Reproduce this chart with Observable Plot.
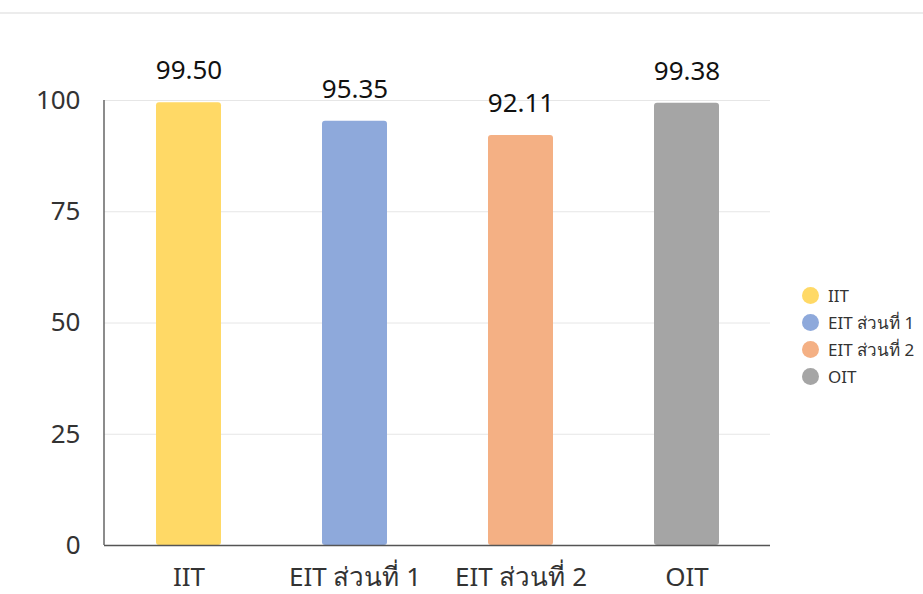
<!DOCTYPE html>
<html>
<head>
<meta charset="utf-8">
<script src="https://cdn.jsdelivr.net/npm/d3@7"></script>
<script src="https://cdn.jsdelivr.net/npm/@observablehq/plot@0.6"></script>
<style>
  html, body { margin: 0; padding: 0; background: #fff; }
  body { width: 923px; height: 594px; position: relative; overflow: hidden; font-family: "Noto Sans", "Open Sans", sans-serif; }
  #topline { position: absolute; left: 0; top: 12px; width: 923px; height: 2px; background: #ececec; }
  #chart { position: absolute; left: 0; top: 0; }
  #legend { position: absolute; left: 802px; top: 282px; font-size: 17px; color: #333; white-space: nowrap; }
  .item { display: flex; align-items: center; height: 27px; }
  .dot { width: 17px; height: 17px; border-radius: 50%; margin-right: 9px; flex: none; }
</style>
</head>
<body>
<div id="topline"></div>
<div id="chart"></div>
<div id="legend"></div>
<script>
const categories = ["IIT", "EIT ส่วนที่ 1", "EIT ส่วนที่ 2", "OIT"];
const values = [99.50, 95.35, 92.11, 99.38];
const colors = ["#FFD966", "#8EA9DB", "#F4B084", "#A5A5A5"];
const yTicks = [0, 25, 50, 75, 100];

const data = categories.map((c, i) => ({ category: c, value: values[i] }));

const chart = Plot.plot({
  width: 923,
  height: 594,
  marginLeft: 104,
  marginRight: 153,
  marginTop: 100,
  marginBottom: 49,
  style: { fontFamily: "'Noto Sans', 'Open Sans', sans-serif", fontSize: "26px", color: "#333", background: "transparent" },
  x: { domain: categories, paddingInner: 0.61, paddingOuter: 0.305, label: null, tickSize: 0, tickPadding: 22 },
  y: { domain: [0, 100], ticks: yTicks, label: null, tickSize: 0, tickPadding: 24 },
  color: { domain: categories, range: colors },
  marks: [
    Plot.gridY(yTicks, { stroke: "#e6e6e6", strokeOpacity: 1 }),
    Plot.barY(data, { x: "category", y: "value", fill: "category", rx: 3 }),
    Plot.ruleY([0], { stroke: "#555", strokeWidth: 1.5 }),
    Plot.text(data, { x: "category", y: "value", text: d => d.value.toFixed(2), dy: -32, fontSize: 26, fill: "#111" })
  ]
});
document.getElementById("chart").appendChild(chart);
const svg = d3.select(chart.tagName.toLowerCase() === "svg" ? chart : chart.querySelector("svg"));
svg.append("line").attr("x1", 104).attr("x2", 104).attr("y1", 100).attr("y2", 545).attr("stroke", "#666").attr("stroke-width", 1.5);

const legend = document.getElementById("legend");
categories.forEach((c, i) => {
  const item = document.createElement("div");
  item.className = "item";
  const dot = document.createElement("span");
  dot.className = "dot";
  dot.style.background = colors[i];
  const label = document.createElement("span");
  label.textContent = c;
  item.appendChild(dot);
  item.appendChild(label);
  legend.appendChild(item);
});
</script>
</body>
</html>
